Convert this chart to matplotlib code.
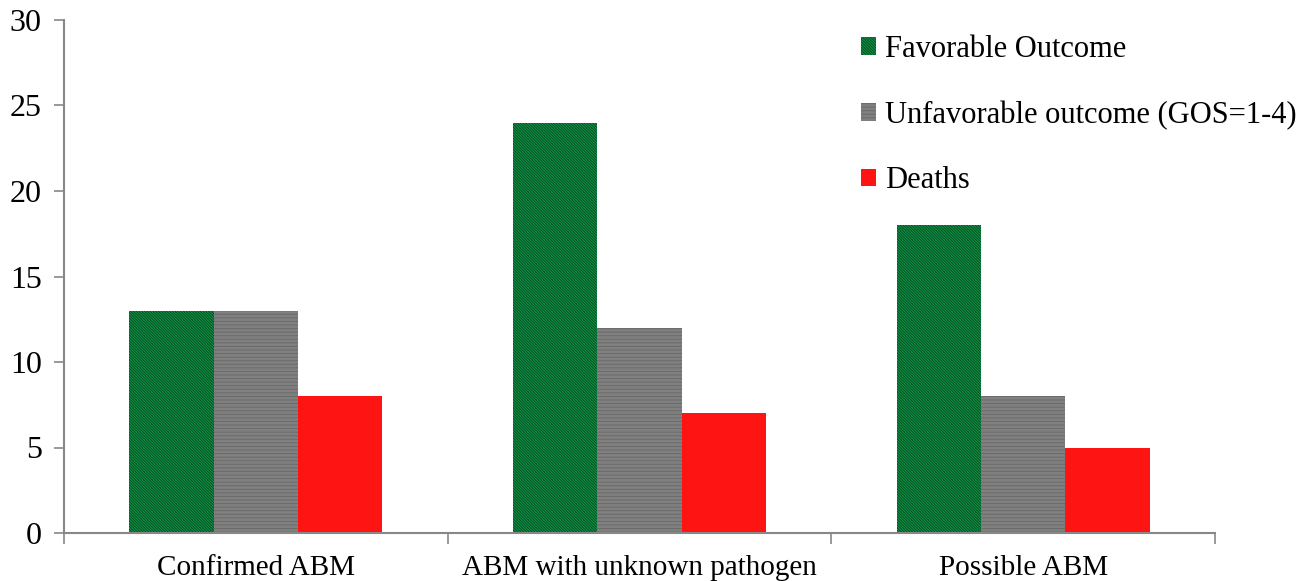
import matplotlib
matplotlib.use("Agg")
import matplotlib.pyplot as plt
import numpy as np
from matplotlib.patches import Patch

categories = ["Confirmed ABM", "ABM with unknown pathogen", "Possible ABM"]
series_names = ["Favorable Outcome", "Unfavorable outcome (GOS=1-4)", "Deaths"]
favorable = [13, 24, 18]
unfavorable = [13, 12, 8]
deaths = [8, 7, 5]
yticks = [0, 5, 10, 15, 20, 25, 30]

plt.rcParams['font.family'] = ['Liberation Serif', 'DejaVu Serif']
plt.rcParams['hatch.linewidth'] = 0.7

fig = plt.figure(figsize=(13.1, 5.81), dpi=100)
ax = fig.add_axes([64/1310, 1-533/581, (1215-64)/1310, (533-20)/581])

x = np.arange(len(categories))
w = 0.22
styles = [
    dict(facecolor="#12934a", edgecolor="#03501f", hatch="\\" * 12),
    dict(facecolor="#a0a0a0", edgecolor="#6a6a6a", hatch="-" * 12),
    dict(facecolor="#ff1414", edgecolor="#ff1414", hatch=None),
]
data = [favorable, unfavorable, deaths]
for i, (vals, st) in enumerate(zip(data, styles)):
    ax.bar(x + (i - 1) * w, vals, width=w, linewidth=0, label=series_names[i], **st)

ax.set_xlim(-0.5, len(categories) - 0.5)
ax.set_ylim(0, 30)
ax.set_yticks(yticks)
ax.set_yticklabels([str(t) for t in yticks], fontsize=23)
ax.set_xticks(x)
ax.set_xticklabels(categories, fontsize=21)
ax.set_xticks(np.arange(-0.5, len(categories)), minor=True)
ax.tick_params(axis='x', which='major', length=0, pad=16)
ax.tick_params(axis='x', which='minor', length=8, width=1.2, color="#888888")
ax.tick_params(axis='y', length=7, width=1.2, color="#888888", pad=9)
for s in ['top', 'right']:
    ax.spines[s].set_visible(False)
for s in ['left', 'bottom']:
    ax.spines[s].set_color("#888888")
    ax.spines[s].set_linewidth(1.5)

handles = [Patch(**st, linewidth=0) for st in styles]
leg = ax.legend(handles, series_names, loc='upper left',
                bbox_to_anchor=((853 - 64) / 1151 - 0.004, 0.995),
                frameon=False, fontsize=22, handlelength=0.5, handleheight=0.5,
                handletextpad=0.3, labelspacing=1.2, borderaxespad=0)
fig.savefig("out.png", dpi=100)
